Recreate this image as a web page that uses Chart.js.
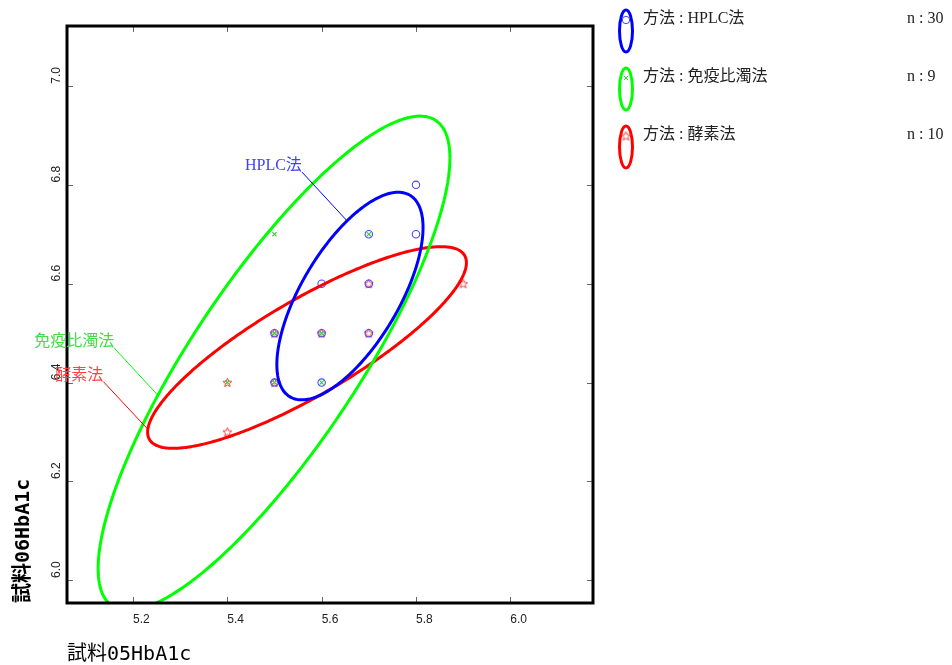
<!DOCTYPE html>
<html>
<head>
<meta charset="utf-8">
<script src="https://cdn.jsdelivr.net/npm/chart.js@4"></script>
<style>
  body { margin: 0; background: #fff; }
  canvas { display: block; }
</style>
</head>
<body>
<canvas id="chart" width="952" height="665"></canvas>
<script>
// tick labels
const xTicks = [5.2, 5.4, 5.6, 5.8, 6.0];
const yTicks = [6.0, 6.2, 6.4, 6.6, 6.8, 7.0];

// methods and sample counts
const methods = ['HPLC法', '免疫比濁法', '酵素法'];
const counts = [30, 9, 10];

// 試料05HbA1c (x) / 試料06HbA1c (y) per method
const hplcX = [5.8, 5.7, 5.8, 5.6, 5.7, 5.5, 5.6, 5.7, 5.5, 5.6];
const hplcY = [6.8, 6.7, 6.7, 6.6, 6.6, 6.5, 6.5, 6.5, 6.4, 6.4];
const immunoX = [5.5, 5.7, 5.5, 5.6, 5.4, 5.5, 5.6];
const immunoY = [6.7, 6.7, 6.5, 6.5, 6.4, 6.4, 6.4];
const enzymeX = [5.9, 5.7, 5.5, 5.6, 5.7, 5.4, 5.5, 5.4];
const enzymeY = [6.6, 6.6, 6.5, 6.5, 6.5, 6.4, 6.4, 6.3];

// probability ellipses: centre, spread and correlation
const ellCx = [5.660, 5.499, 5.569];
const ellCy = [6.575, 6.439, 6.471];
const ellSx = [0.155, 0.373, 0.338];
const ellSy = [0.210, 0.500, 0.204];
const ellR = [0.66, 0.83, 0.84];

const lineColors = ['#0000ff', '#00ff00', '#ff0000'];
const markColors = ['#4646ff', '#33cc33', '#ff3a3a'];
const textColors = ['#4040ff', '#44dd44', '#ff4444'];

// callouts (text end / leader end, in data units)
const callouts = [
  { tx: 5.558, ty: 6.826, ex: 5.653, ey: 6.728 },
  { tx: 5.160, ty: 6.470, ex: 5.254, ey: 6.373 },
  { tx: 5.137, ty: 6.402, ex: 5.231, ey: 6.306 }
];

const serifFont = '16px "Liberation Serif", "Noto Sans CJK JP", serif';

function pairs(xs, ys) {
  return xs.map((v, i) => ({ x: v, y: ys[i] }));
}

function ellipse(i) {
  const pts = [];
  const s = Math.sqrt(1 - ellR[i] * ellR[i]);
  for (let k = 0; k <= 200; k++) {
    const t = k / 200 * 2 * Math.PI;
    pts.push({
      x: ellCx[i] + ellSx[i] * Math.cos(t),
      y: ellCy[i] + ellSy[i] * (ellR[i] * Math.cos(t) + s * Math.sin(t))
    });
  }
  return pts;
}

// small outlined star for the enzyme method
const star = document.createElement('canvas');
star.width = 11; star.height = 11;
(function () {
  const c = star.getContext('2d');
  c.strokeStyle = markColors[2];
  c.lineWidth = 1;
  c.beginPath();
  for (let k = 0; k < 10; k++) {
    const r = k % 2 ? 2.1 : 4.7;
    const a = -Math.PI / 2 + k * Math.PI / 5;
    const px = 5.5 + r * Math.cos(a), py = 5.8 + r * Math.sin(a);
    k ? c.lineTo(px, py) : c.moveTo(px, py);
  }
  c.closePath();
  c.stroke();
})();

const markStyles = [
  { pointStyle: 'circle', radius: 3.7 },
  { pointStyle: 'crossRot', radius: 3 },
  { pointStyle: star, radius: 5 }
];

const pointSets = [pairs(hplcX, hplcY), pairs(immunoX, immunoY), pairs(enzymeX, enzymeY)];

const datasets = [];
methods.forEach((m, i) => {
  datasets.push({
    label: m + ' ellipse',
    data: ellipse(i),
    showLine: true,
    borderColor: lineColors[i],
    borderWidth: 3,
    pointRadius: 0,
    tension: 0.1,
    fill: false
  });
});
methods.forEach((m, i) => {
  datasets.push({
    label: m,
    data: pointSets[i],
    showLine: false,
    pointStyle: markStyles[i].pointStyle,
    pointRadius: markStyles[i].radius,
    borderColor: markColors[i],
    backgroundColor: 'rgba(0,0,0,0)',
    borderWidth: 1.1
  });
});

const decor = {
  id: 'decor',
  afterDraw(chart) {
    const { ctx, chartArea: a, scales: { x, y } } = chart;
    ctx.save();

    // inward tick marks on all four sides
    ctx.strokeStyle = '#666';
    ctx.lineWidth = 1;
    ctx.beginPath();
    xTicks.forEach(v => {
      const px = Math.round(x.getPixelForValue(v)) + 0.5;
      ctx.moveTo(px, a.bottom); ctx.lineTo(px, a.bottom - 6);
      ctx.moveTo(px, a.top); ctx.lineTo(px, a.top + 6);
    });
    yTicks.forEach(v => {
      const py = Math.round(y.getPixelForValue(v)) + 0.5;
      ctx.moveTo(a.left, py); ctx.lineTo(a.left + 6, py);
      ctx.moveTo(a.right, py); ctx.lineTo(a.right - 6, py);
    });
    ctx.stroke();

    // frame
    ctx.strokeStyle = '#000';
    ctx.lineWidth = 3;
    ctx.strokeRect(a.left, a.top, a.right - a.left, a.bottom - a.top);

    // callouts
    ctx.font = serifFont;
    ctx.textAlign = 'right';
    ctx.textBaseline = 'bottom';
    callouts.forEach((c, i) => {
      const sx = x.getPixelForValue(c.tx), sy = y.getPixelForValue(c.ty);
      const ex = x.getPixelForValue(c.ex), ey = y.getPixelForValue(c.ey);
      ctx.strokeStyle = lineColors[i];
      ctx.lineWidth = 1;
      ctx.beginPath();
      ctx.moveTo(sx, sy);
      ctx.lineTo(ex, ey);
      ctx.stroke();
      ctx.fillStyle = textColors[i];
      ctx.fillText(methods[i], sx, sy + 2);
    });

    // legend
    methods.forEach((m, i) => {
      const cy = 31 + 58 * i;
      ctx.strokeStyle = lineColors[i];
      ctx.lineWidth = 3;
      ctx.beginPath();
      ctx.ellipse(626, cy, 6.5, 21, 0, 0, 2 * Math.PI);
      ctx.stroke();
      ctx.strokeStyle = markColors[i];
      ctx.fillStyle = 'rgba(0,0,0,0)';
      ctx.lineWidth = 1;
      Chart.helpers.drawPoint(ctx, {
        pointStyle: markStyles[i].pointStyle,
        radius: markStyles[i].radius,
        borderWidth: 1,
        rotation: 0
      }, 626, 20 + 58 * i);
      ctx.fillStyle = '#222';
      ctx.font = serifFont;
      ctx.textAlign = 'left';
      ctx.textBaseline = 'middle';
      ctx.fillText('方法 : ' + m, 643, 19 + 58 * i);
      ctx.fillText('n : ' + counts[i], 907, 19 + 58 * i);
    });
    ctx.restore();
  }
};

const tickFont = { family: '"Liberation Sans", Arial, sans-serif', size: 12 };
const titleFamily = '"DejaVu Sans Mono", "Noto Sans CJK JP", monospace';

new Chart(document.getElementById('chart'), {
  type: 'scatter',
  data: { datasets: datasets },
  options: {
    responsive: false,
    animation: false,
    layout: { padding: { top: 26, right: 359, left: 0, bottom: 0 } },
    plugins: { legend: { display: false }, tooltip: { enabled: false } },
    scales: {
      x: {
        type: 'linear',
        min: 5.06,
        max: 6.1754,
        afterFit: s => { s.height = 62; },
        afterBuildTicks: s => { s.ticks = xTicks.map(v => ({ value: v })); },
        grid: { display: false, drawTicks: false },
        border: { display: false },
        ticks: {
          align: 'start', padding: 9, autoSkip: false, maxRotation: 0,
          color: '#222', font: tickFont,
          callback: v => v.toFixed(1)
        },
        title: {
          display: true, text: '試料05HbA1c', align: 'start', color: '#000',
          font: { family: titleFamily, size: 20, lineHeight: 1 },
          padding: 0
        }
      },
      y: {
        type: 'linear',
        min: 5.9541,
        max: 7.1213,
        afterFit: s => { s.width = 67; },
        afterBuildTicks: s => { s.ticks = yTicks.map(v => ({ value: v })); },
        grid: { display: false, drawTicks: false },
        border: { display: false },
        ticks: {
          padding: 10, autoSkip: false, minRotation: 90, maxRotation: 90,
          labelOffset: -19, crossAlign: 'near',
          color: '#222', font: tickFont,
          callback: v => v.toFixed(1)
        },
        title: {
          display: true, text: '試料06HbA1c', align: 'start', color: '#000',
          font: { family: titleFamily, size: 20, weight: 'bold', lineHeight: 1 },
          padding: { top: 14, bottom: 0 }
        }
      }
    }
  },
  plugins: [decor]
});
</script>
</body>
</html>
